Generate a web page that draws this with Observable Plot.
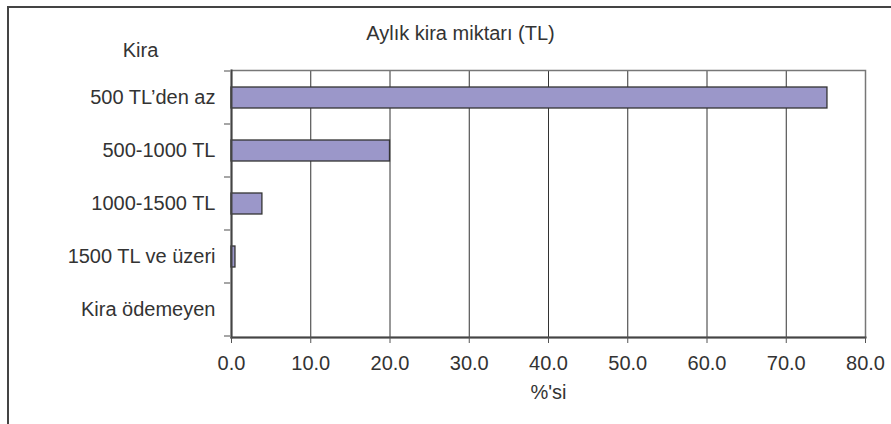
<!DOCTYPE html>
<html>
<head>
<meta charset="utf-8">
<script src="https://cdn.jsdelivr.net/npm/d3@7"></script>
<script src="https://cdn.jsdelivr.net/npm/@observablehq/plot@0.6"></script>
<style>
  html, body { margin: 0; padding: 0; background: #fff; }
  #wrap { position: relative; width: 891px; height: 424px; overflow: hidden; }
  #border { position: absolute; left: 7px; top: 6px; width: 900px; height: 430px;
            border-left: 2px solid #444; border-top: 2px solid #444; box-sizing: border-box; }
  #chart { position: absolute; left: 0; top: 0; }
</style>
</head>
<body>
<div id="wrap"><div id="border"></div><div id="chart"></div></div>
<script>
const categories = ["500 TL’den az", "500-1000 TL", "1000-1500 TL", "1500 TL ve üzeri", "Kira ödemeyen"];
const percents = [75.2, 20.0, 3.9, 0.5, 0];
const xTicks = [0, 10, 20, 30, 40, 50, 60, 70, 80];
const titleText = "Aylık kira miktarı (TL)";
const yTitle = "Kira";
const xTitle = "%'si";

const data = categories.map((c, i) => ({cat: c, value: percents[i]}));
const font = "'Liberation Sans', Arial, sans-serif";
const fs = 20;

function yBoundaryTicks(index, scales, values, dims) {
  const y = scales.y, x = scales.x;
  const step = typeof y.step === "function" ? y.step() : scales.scales.y.step;
  const bw = typeof y.bandwidth === "function" ? y.bandwidth() : scales.scales.y.bandwidth;
  const gap = (step - bw) / 2;
  const x0 = x(0);
  const ys = categories.map(c => y(c) - gap);
  ys.push(y(categories[categories.length - 1]) + bw + gap);
  const g = d3.create("svg:g");
  for (const yy of ys) {
    g.append("line").attr("x1", x0 - 7).attr("x2", x0).attr("y1", yy).attr("y2", yy)
      .attr("stroke", "#888").attr("stroke-width", 1.5);
  }
  return g.node();
}

const chart = Plot.plot({
  width: 891,
  height: 424,
  marginLeft: 231,
  marginRight: 26,
  marginTop: 70,
  marginBottom: 87,
  style: {fontFamily: font, fontSize: fs + "px", color: "#333", background: "transparent"},
  x: {domain: [0, 80]},
  y: {domain: categories, paddingInner: 0.6, paddingOuter: 0.3},
  marks: [
    Plot.ruleX(xTicks.slice(1, -1), {stroke: "#333", strokeWidth: 1}),
    Plot.frame({stroke: "#777", strokeWidth: 1.5}),
    Plot.barX(data, {x: "value", y: "cat", fill: "#9b97c9", stroke: "#333", strokeWidth: 1.3}),
    Plot.frame({anchor: "bottom", stroke: "#444", strokeWidth: 2}),
    Plot.frame({anchor: "left", stroke: "#444", strokeWidth: 2}),
    yBoundaryTicks,
    Plot.axisX({ticks: xTicks, tickFormat: d3.format(".1f"), tickSize: 6, tickPadding: 12,
                stroke: "#555", label: null, fontSize: fs}),
    Plot.axisY({tickSize: 0, tickPadding: 16, label: null, fontSize: fs}),
    Plot.text([xTitle], {text: d => d, frameAnchor: "bottom", lineAnchor: "middle", dy: 55, fontSize: fs, fill: "#333"}),
    Plot.text([titleText], {text: d => d, frameAnchor: "top", lineAnchor: "middle", dx: -88, dy: -37, fontSize: fs, fill: "#333"}),
    Plot.text([yTitle], {text: d => d, frameAnchor: "top-left", lineAnchor: "middle", dx: -91, dy: -20, textAnchor: "middle", fontSize: fs, fill: "#333"})
  ]
});
document.getElementById("chart").appendChild(chart);
</script>
</body>
</html>
